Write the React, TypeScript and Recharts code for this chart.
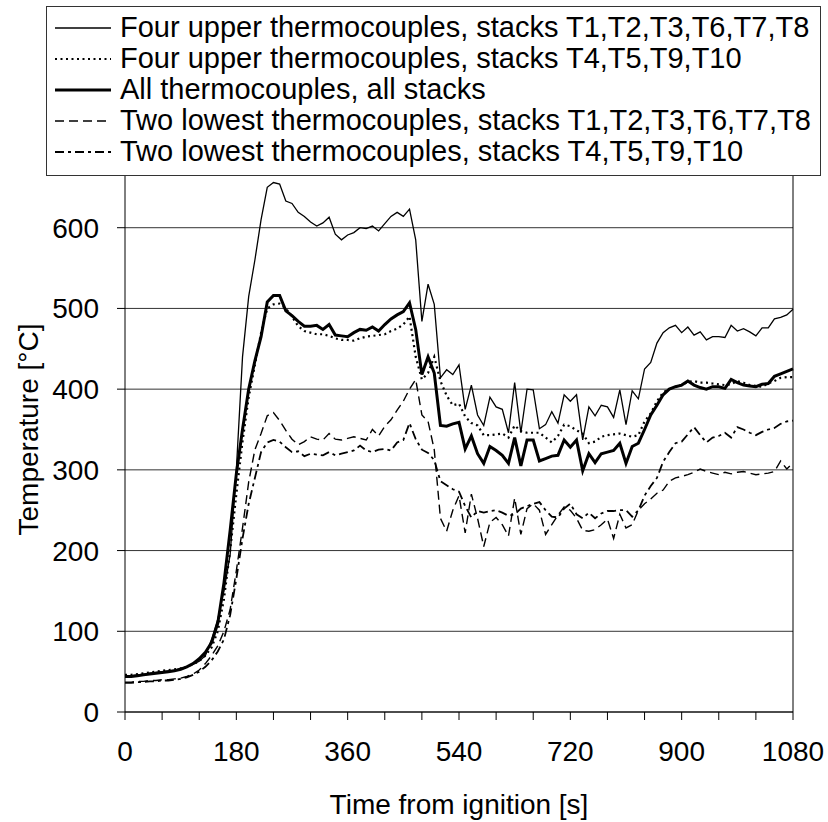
import {
  LineChart,
  Line,
  XAxis,
  YAxis,
  CartesianGrid,
  ReferenceLine,
} from "recharts";

const FONT = '"Liberation Sans", Arial, Helvetica, sans-serif';

// sample times [s], every 10 s
const times = [
  0, 10, 20, 30, 40, 50, 60, 70, 80, 90,
  100, 110, 120, 130, 140, 150, 160, 170, 180, 190,
  200, 210, 220, 230, 240, 250, 260, 270, 280, 290,
  300, 310, 320, 330, 340, 350, 360, 370, 380, 390,
  400, 410, 420, 430, 440, 450, 460, 470, 480, 490,
  500, 510, 520, 530, 540, 550, 560, 570, 580, 590,
  600, 610, 620, 630, 640, 650, 660, 670, 680, 690,
  700, 710, 720, 730, 740, 750, 760, 770, 780, 790,
  800, 810, 820, 830, 840, 850, 860, 870, 880, 890,
  900, 910, 920, 930, 940, 950, 960, 970, 980, 990,
  1000, 1010, 1020, 1030, 1040, 1050, 1060, 1070, 1080,
];

// Four upper thermocouples, stacks T1,T2,T3,T6,T7,T8
const upperA = [
  45, 45, 46, 47, 48, 49, 50, 51, 52, 54,
  56, 59, 63, 70, 90, 115, 150, 195, 300, 440,
  515, 560, 610, 650, 656, 654, 633, 630, 619, 614,
  607, 602, 606, 613, 592, 585, 591, 594, 600, 599,
  602, 596, 605, 614, 619, 614, 623, 585, 484, 530,
  505, 414, 424, 418, 430, 375, 405, 368, 355, 390,
  378, 375, 346, 408, 346, 400, 399, 351, 356, 372,
  358, 393, 385, 393, 337, 378, 367, 380, 378, 365,
  399, 356, 398, 388, 425, 433, 457, 470, 476, 479,
  470, 477, 467, 471, 461, 465, 465, 464, 479, 472,
  475, 471, 466, 476, 476, 487, 489, 492, 499,
];

// Four upper thermocouples, stacks T4,T5,T9,T10
const upperB = [
  46, 46, 47, 48, 49, 50, 51, 52, 53, 54,
  56, 59, 63, 70, 80, 100, 140, 200, 270, 335,
  390, 430, 470, 500, 505, 506, 500, 490, 478, 472,
  470, 468, 468, 466, 463, 461, 461, 460, 463, 465,
  466, 467, 468, 472, 475, 480, 490, 440, 412, 420,
  440, 410, 392, 380, 382, 366, 358, 355, 343, 343,
  344, 345, 340, 355, 348, 346, 346, 346, 340, 334,
  342, 356, 354, 349, 345, 333, 335, 341, 343, 344,
  345, 343, 341, 343, 360, 370, 385, 396, 400, 403,
  405, 409, 410, 408, 408, 407, 406, 405, 406, 410,
  408, 405, 404, 403, 407, 410, 414, 415, 415,
];

// All thermocouples, all stacks
const allStacks = [
  44, 44, 45, 46, 47, 48, 49, 50, 51, 53,
  56, 60, 66, 74, 86, 110, 160, 225, 295, 350,
  400, 435, 465, 508, 516, 516, 497, 491, 484, 478,
  478, 479, 474, 480, 467, 466, 465, 470, 474, 473,
  477, 472, 480, 487, 492, 496, 507, 474, 418, 440,
  420, 355, 354, 357, 359, 326, 342, 320, 308, 329,
  324, 318, 308, 340, 305, 337, 337, 311, 314, 317,
  318, 337, 328, 337, 299, 320, 309, 320, 322, 324,
  333, 308, 329, 333, 350, 368, 380, 393, 400, 403,
  405, 410, 405, 402, 400, 403, 403, 401, 412, 408,
  405, 404, 403, 406, 407, 416, 419, 422, 425,
];

// Two lowest thermocouples, stacks T1,T2,T3,T6,T7,T8
const lowerA = [
  37, 37, 38, 38, 39, 39, 40, 40, 41, 42,
  44, 47, 52, 60, 70, 82, 100, 127, 175, 228,
  285, 325, 345, 367, 371, 361, 349, 338, 331, 335,
  341, 338, 337, 345, 338, 337, 339, 341, 339, 337,
  350, 342, 354, 362, 374, 385, 400, 412, 368, 360,
  325, 240, 224, 250, 268, 222, 270, 240, 205, 235,
  241, 232, 218, 265, 220, 252, 258, 250, 220, 232,
  244, 254, 250, 240, 225, 224, 226, 232, 239, 215,
  245, 228, 232, 250, 258, 264, 271, 275, 286, 290,
  292, 294, 297, 301, 298, 296, 294, 297, 295, 297,
  298, 296, 294, 295, 296, 298, 311, 301, 309,
];

// Two lowest thermocouples, stacks T4,T5,T9,T10
const lowerB = [
  36, 36, 37, 37, 38, 38, 39, 39, 40, 41,
  43, 46, 50, 56, 64, 75, 90, 120, 165, 215,
  258, 290, 322, 334, 337, 335, 328, 322, 323, 317,
  320, 319, 318, 322, 318, 320, 322, 324, 330, 324,
  322, 325, 326, 324, 334, 337, 358, 338, 325, 321,
  312, 286, 281, 276, 273, 255, 241, 249, 247, 249,
  250, 247, 243, 245, 252, 255, 258, 260, 250, 242,
  241, 252, 258, 245, 240, 247, 240, 246, 249, 249,
  250, 250, 242, 250, 268, 280, 290, 310, 322, 333,
  335, 344, 353, 343, 334, 340, 342, 346, 340, 353,
  350, 346, 343, 347, 350, 352, 357, 360, 361,
];

const xTicks = [0, 60, 120, 180, 240, 300, 360, 420, 480, 540, 600, 660, 720, 780, 840, 900, 960, 1020, 1080];
const yTicks = [0, 100, 200, 300, 400, 500, 600, 700];

const data = times.map((t, i) => ({
  t,
  upperA: upperA[i],
  upperB: upperB[i],
  allStacks: allStacks[i],
  lowerA: lowerA[i],
  lowerB: lowerB[i],
}));

const series = [
  { key: "upperA", name: "Four upper thermocouples, stacks T1,T2,T3,T6,T7,T8", width: 1.3, dash: undefined },
  { key: "upperB", name: "Four upper thermocouples, stacks T4,T5,T9,T10", width: 2.2, dash: "2 3.5" },
  { key: "allStacks", name: "All thermocouples, all stacks", width: 3, dash: undefined },
  { key: "lowerA", name: "Two lowest thermocouples, stacks T1,T2,T3,T6,T7,T8", width: 1.4, dash: "9 5" },
  { key: "lowerB", name: "Two lowest thermocouples, stacks T4,T5,T9,T10", width: 1.8, dash: "9 4 3 4" },
];

const XTick = (props: any) => {
  const { x, y, payload } = props;
  if (payload.value % 180 !== 0) return <g />;
  return (
    <text x={x} y={y} dy="0.71em" textAnchor="middle" fontSize={28} fontFamily={FONT} fill="#000">
      {payload.value}
    </text>
  );
};

const LegendBox = () => (
  <div
    style={{
      position: "absolute",
      left: 46,
      top: 6,
      width: 775,
      height: 170,
      boxSizing: "border-box",
      border: "1px solid #333",
      background: "#fff",
      paddingTop: 5,
      fontFamily: FONT,
      fontSize: 29,
      color: "#000",
    }}
  >
    {series.map((s) => (
      <div key={s.key} style={{ display: "flex", alignItems: "center", height: 31, whiteSpace: "nowrap" }}>
        <svg width={73} height={31} style={{ flex: "none" }}>
          <line x1={8} x2={64} y1={16} y2={16} stroke="#000" strokeWidth={s.width} strokeDasharray={s.dash} />
        </svg>
        <span style={{ lineHeight: "31px" }}>{s.name}</span>
      </div>
    ))}
  </div>
);

export default function App() {
  return (
    <div style={{ position: "absolute", left: 0, top: 0, width: 828, height: 822, background: "#fff" }}>
      <LineChart
        width={828}
        height={822}
        data={data}
        margin={{ top: 147, right: 35, left: 0, bottom: 0 }}
      >
        <CartesianGrid vertical={false} stroke="#333" strokeWidth={1} />
        <XAxis
          dataKey="t"
          type="number"
          domain={[0, 1080]}
          ticks={xTicks}
          interval={0}
          height={110}
          tickSize={8}
          tickMargin={21}
          stroke="#000"
          tick={<XTick />}
          label={({ viewBox }: any) => (
            <text
              x={viewBox.x + viewBox.width / 2}
              y={viewBox.y + 102}
              textAnchor="middle"
              fontSize={28}
              fontFamily={FONT}
              fill="#000"
            >
              Time from ignition [s]
            </text>
          )}
        />
        <YAxis
          type="number"
          domain={[0, 700]}
          ticks={yTicks}
          interval={0}
          width={125}
          tickSize={8}
          tickMargin={18}
          stroke="#000"
          tick={{ fontSize: 28, fontFamily: FONT, fill: "#000" }}
          label={({ viewBox }: any) => {
            const cx = viewBox.x + 28;
            const cy = viewBox.y + viewBox.height / 2;
            return (
              <text
                x={cx}
                y={cy}
                dy="0.35em"
                transform={`rotate(-90, ${cx}, ${cy})`}
                textAnchor="middle"
                fontSize={28}
                fontFamily={FONT}
                fill="#000"
              >
                Temperature [°C]
              </text>
            );
          }}
        />
        <ReferenceLine x={1080} stroke="#000" strokeWidth={1} />
        {series.map((s) => (
          <Line
            key={s.key}
            dataKey={s.key}
            name={s.name}
            type="linear"
            stroke="#000"
            strokeWidth={s.width}
            strokeDasharray={s.dash}
            dot={false}
            activeDot={false}
            isAnimationActive={false}
          />
        ))}
      </LineChart>
      <LegendBox />
    </div>
  );
}
